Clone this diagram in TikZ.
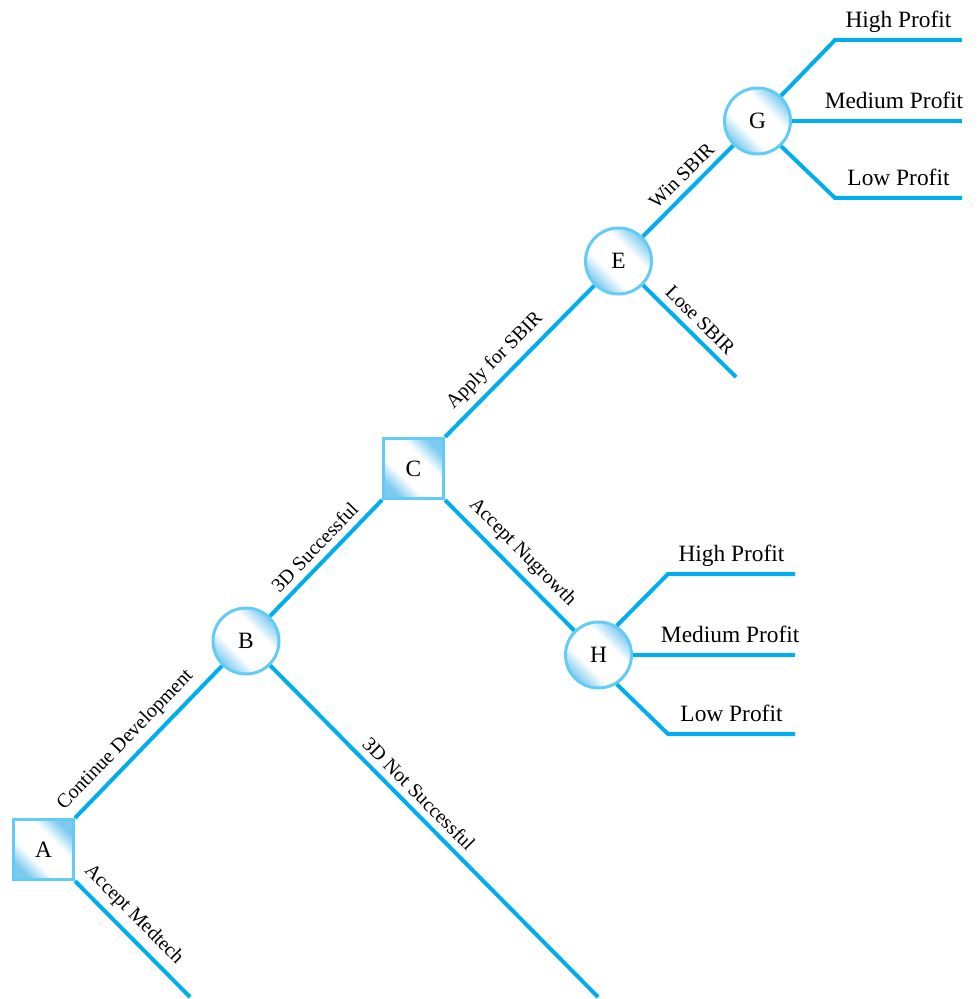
\documentclass[tikz,border=0pt]{standalone}
\usepackage{fontspec}
\setmainfont{Liberation Serif}
\usepackage[rgb]{xcolor}
\usepackage{tikz}

\definecolor{wire}{RGB}{0,174,239}
\definecolor{rim}{RGB}{98,204,244}
\definecolor{glow}{RGB}{125,202,240}

% white band across the middle, tint only near two corners
\pgfdeclareverticalshading{cornerglow}{100bp}{color(0bp)=(glow); color(25bp)=(glow);
  color(39bp)=(white); color(61bp)=(white); color(75bp)=(glow); color(100bp)=(glow)}

\tikzset{
  branch/.style={draw=wire, line width=2pt},
  choice/.style={rectangle, draw=rim, line width=1.5pt, minimum size=30pt,
    shade, shading=cornerglow, shading angle=-45,
    font=\fontsize{11.7}{14}\selectfont},
  chance/.style={circle, draw=rim, line width=1.5pt, minimum size=33pt,
    shade, shading=cornerglow, shading angle=-45,
    font=\fontsize{11.7}{14}\selectfont},
  tag/.style={sloped, above, font=\fontsize{10}{12}\selectfont},
  payoff/.style={above, text height=1.6ex, text depth=0.45ex,
    font=\fontsize{11.7}{14}\selectfont}
}

\begin{document}
\begin{tikzpicture}[x=0.5pt, y=-0.5pt]

\useasboundingbox (0,0) rectangle (978,999);

% decision and chance nodes

\path
(43.5,849.5) node[choice] (A) {A}
(246,641)    node[chance] (B) {B}
(413.5,468.5) node[choice] (C) {C}
(618.5,261)  node[chance] (E) {E}
(757.5,121)  node[chance] (G) {G}
(598.5,655)  node[chance] (H) {H};

% loose ends
\coordinate (aEnd) at (190,997);
\coordinate (bEnd) at (598,997);
\coordinate (eEnd) at (736,377);
\coordinate (gHi) at (835,40);
\coordinate (gHiEnd) at (962,40);
\coordinate (gMidEnd) at (962,121);
\coordinate (gLo) at (835,198);
\coordinate (gLoEnd) at (962,198);
\coordinate (hHi) at (668,574);
\coordinate (hHiEnd) at (795,574);
\coordinate (hMidEnd) at (795,655);
\coordinate (hLo) at (668,734);
\coordinate (hLoEnd) at (795,734);

\draw[branch] (A.north east) -- (B) node[tag, pos=0.43]{Continue Development};
\draw[branch] (A.south east) -- (aEnd) node[tag, pos=0.4]{Accept Medtech};
\draw[branch] (B) -- (C.south west) node[tag, pos=0.5]{3D Successful};
\draw[branch] (B) -- (bEnd) node[tag, pos=0.42]{3D Not Successful};
\draw[branch] (C.north east) -- (E) node[tag, pos=0.42]{Apply for SBIR};
\draw[branch] (C.south east) -- (H) node[tag, pos=0.5]{Accept Nugrowth};
\draw[branch] (E) -- (G) node[tag, pos=0.55]{Win SBIR};
\draw[branch] (E) -- (eEnd) node[tag, pos=0.5]{Lose SBIR};

% payoffs
\draw[branch] (G.47) -- (gHi) -- (gHiEnd) node[payoff, midway]{High Profit};
\draw[branch] (G.east) -- (gMidEnd) node[payoff, pos=0.6]{Medium Profit};
\draw[branch] (G.-47) -- (gLo) -- (gLoEnd) node[payoff, midway]{Low Profit};
\draw[branch] (H.58) -- (hHi) -- (hHiEnd) node[payoff, midway]{High Profit};
\draw[branch] (H.east) -- (hMidEnd) node[payoff, pos=0.6]{Medium Profit};
\draw[branch] (H.-58) -- (hLo) -- (hLoEnd) node[payoff, midway]{Low Profit};

\end{tikzpicture}
\end{document}
